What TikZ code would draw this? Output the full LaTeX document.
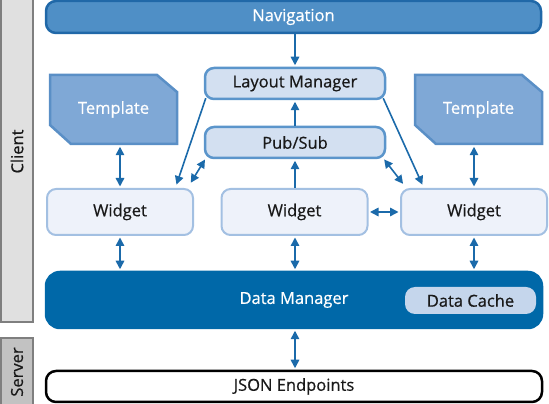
\documentclass[tikz,border=0pt]{standalone}
\usepackage{fontspec}
\setmainfont{Open Sans}[FakeBold=0.6]
\usetikzlibrary{arrows.meta}
\definecolor{navfill}{HTML}{4F8FC6}
\definecolor{navline}{HTML}{2068A8}
\definecolor{mgrfill}{HTML}{D3E0F1}
\definecolor{mgrline}{HTML}{5B95CB}
\definecolor{tplfill}{HTML}{7FA8D6}
\definecolor{tplline}{HTML}{5A8FC6}
\definecolor{wdgfill}{HTML}{EEF2FA}
\definecolor{wdgline}{HTML}{A3C0E2}
\definecolor{dmfill}{HTML}{0068A8}
\definecolor{dcfill}{HTML}{C5D6EC}
\definecolor{arrcol}{HTML}{1B6AAA}
\definecolor{barfill}{HTML}{E0E0E0}
\definecolor{barfilldark}{HTML}{C2C2C2}
\definecolor{barline}{HTML}{7F7F7F}
\tikzset{
    box/.style={rounded corners=9pt, line width=2.5pt, inner sep=0pt,
        font=\fontsize{16.5}{19}\selectfont, text=black!90},
    navbox/.style={box, fill=navfill, draw=navline, text=white,
        rounded corners=10pt, minimum width=495pt, minimum height=32pt},
    mgrbox/.style={box, fill=mgrfill, draw=mgrline,
        minimum width=180pt, minimum height=31pt},
    tplbox/.style={box, text=white, minimum width=127pt, minimum height=69pt},
    tplshape/.style={fill=tplfill, draw=tplline, line width=2.5pt},
    widgetbox/.style={box, fill=wdgfill, draw=wdgline, line width=2pt,
        minimum width=146pt, minimum height=46pt},
    databox/.style={box, fill=dmfill, draw=dmfill, text=white,
        rounded corners=14pt, minimum width=496pt, minimum height=56pt},
    cachebox/.style={box, fill=dcfill, draw=none, rounded corners=10pt,
        minimum width=131pt, minimum height=27pt},
    endbox/.style={box, fill=white, draw=black, rounded corners=10pt,
        minimum width=496pt, minimum height=31pt},
    sidebar/.style={box, rounded corners=0pt, draw=barline, rotate=90,
        minimum height=32pt},
    arr/.style={draw=arrcol, line width=1.6pt,
        -{Triangle[length=8.5pt,width=8.5pt]}, shorten >=1.5pt},
    darr/.style={arr, {Triangle[length=8.5pt,width=8.5pt]}-{Triangle[length=8.5pt,width=8.5pt]},
        shorten <=1.5pt},
}
\begin{document}
\begin{tikzpicture}[x=1pt,y=1pt]
\useasboundingbox (0,0) rectangle (549,404);
% client / server bars
\node[sidebar, fill=barfill, minimum width=341pt] (client) at (17,252.5) {Client};
\node[sidebar, fill=barfilldark, minimum width=68pt] (server) at (17,32) {Server};
% top row
\node[navbox] (nav) at (293.5,387) {Navigation};
\node[mgrbox] (layout) at (295,320.5) {Layout Manager};
\node[mgrbox] (pubsub) at (295,261.5) {Pub/Sub};
% templates
\draw[tplshape] (50,329) -- (157,329) -- (177,312) -- (177,260) -- (71,260) -- (50,279) -- cycle;
\draw[tplshape] (415,329) -- (522,329) -- (542,312) -- (542,260) -- (436,260) -- (415,279) -- cycle;
\node[tplbox] (tplL) at (113.5,294.5) {Template};
\node[tplbox] (tplR) at (478.5,294.5) {Template};
% widgets
\node[widgetbox] (wL) at (120,192) {Widget};
\node[widgetbox] (wM) at (294.5,192) {Widget};
\node[widgetbox] (wR) at (474,192) {Widget};
% data
\node[databox] (dm) at (294,104) {Data Manager};
\node[cachebox] (dc) at (470.5,103.5) {Data Cache};
\node[endbox] (json) at (294,17.5) {JSON Endpoints};
% connectors
\draw[arr] (layout.north |- nav.south) -- (layout.north);
\draw[arr] (pubsub.north) -- (layout.south);
\draw[arr] (wM.north -| pubsub) -- (pubsub.south);
\draw[arr] ([shift={(2,2)}]layout.south west) -- ([shift={(-18,2)}]wL.north east);
\draw[arr] ([shift={(-3,2)}]layout.south east) -- ([shift={(23,2)}]wR.north west);
\draw[darr] ([shift={(2,1)}]pubsub.south west) -- ([shift={(-4,4)}]wL.north east);
\draw[darr] ([shift={(-3,1)}]pubsub.south east) -- ([shift={(4,3)}]wR.north west);
\draw[darr] (wL.north |- tplL.south) -- (wL.north);
\draw[darr] (wR.north |- tplR.south) -- (wR.north);
\draw[darr] (wM.east) -- (wR.west);
\draw[darr] (wL.south) -- (wL.south |- dm.north);
\draw[darr] (wM.south -| pubsub) -- (dm.north -| pubsub);
\draw[darr] (wR.south) -- (wR.south |- dm.north);
\draw[darr] (dm.south -| pubsub) -- (json.north -| pubsub);
\end{tikzpicture}
\end{document}
